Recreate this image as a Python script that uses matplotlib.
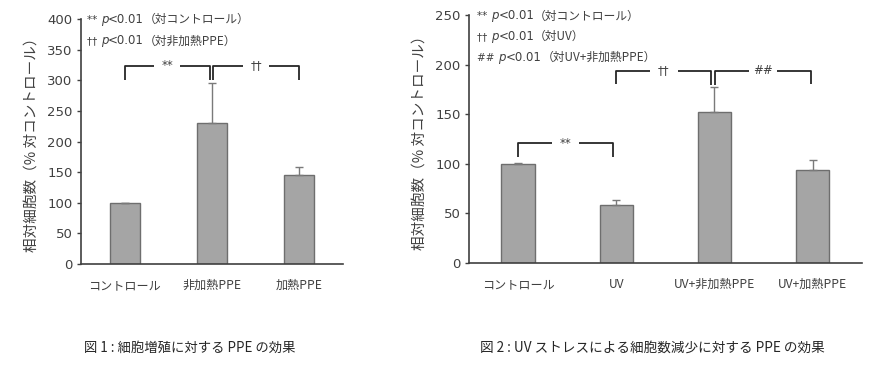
import matplotlib
matplotlib.use("Agg")
import matplotlib.pyplot as plt
import numpy as np

plt.rcParams['font.family'] = ['Noto Sans CJK JP', 'DejaVu Sans']

# ---- data ----
cats1 = ["コントロール", "非加熱PPE", "加熱PPE"]
vals1 = [100, 231, 145]
errs1 = [0.5, 65, 14]

cats2 = ["コントロール", "UV", "UV+非加熱PPE", "UV+加熱PPE"]
vals2 = [100, 58, 152, 94]
errs2 = [0.5, 5, 25, 10]

ylabel = "相対細胞数（% 対コントロール）"
notes1 = [("**", "（対コントロール）"), ("††", "（対非加熱PPE）")]
notes2 = [("**", "（対コントロール）"), ("††", "（対UV）"),
          ("##", "（対UV+非加熱PPE）")]
pval = "<0.01"
# brackets: (x_left, x_right, y_top, y_leg_left, y_leg_right, label)
brackets1 = [(0, 0.977, 324, 301, 300, "**"), (1.015, 2, 324, 300, 301, "††")]
brackets2 = [(0, 0.97, 120.5, 107, 107, "**"), (1.0, 1.97, 193.8, 180, 179, "††"),
             (2.01, 2.98, 193.8, 179, 180, "##")]
captions = ["図 1 : 細胞増殖に対する PPE の効果",
            "図 2 : UV ストレスによる細胞数減少に対する PPE の効果"]

TXT = "#404040"
BAR = "#a5a5a5"
EDGE = "#6e6e6e"

fig = plt.figure(figsize=(8.78, 3.92), dpi=100)
ax1 = fig.add_axes([81/878, 1-264/392, (343-81)/878, (264-19.3)/392])
ax2 = fig.add_axes([469/878, 1-262.7/392, (861.7-469)/878, (262.7-15)/392])
renderer = fig.canvas.get_renderer()


def chain_text(ax, x0, y, pieces):
    """Place text pieces side by side on a common baseline."""
    x = x0
    for s, kw in pieces:
        t = ax.text(x, y, s, ha='left', va='baseline', color=TXT, **kw)
        bb = t.get_window_extent(renderer=renderer)
        x = ax.transData.inverted().transform((bb.x1, bb.y0))[0]


def draw(ax, cats, vals, errs, ymax, ystep, notes, note_ys, note_x, brackets, gap):
    x = np.arange(len(cats))
    ax.bar(x, vals, width=0.34, color=BAR, edgecolor=EDGE, linewidth=1.0, zorder=2)
    ax.errorbar(x, vals, yerr=[np.zeros(len(errs)), errs], fmt='none',
                ecolor="#7a7a7a", elinewidth=1.0, capsize=3, capthick=1.0, zorder=3)
    ax.set_xlim(-0.5, len(cats) - 0.5)
    ax.set_ylim(0, ymax)
    ax.set_yticks(np.arange(0, ymax + 1, ystep))
    ax.set_xticks(x)
    ax.set_xticklabels(cats, fontsize=8.7, color=TXT)
    ax.tick_params(axis='x', length=0, pad=11)
    ax.tick_params(axis='y', length=3, width=1.0, color="#404040", labelsize=9.5,
                   labelcolor=TXT, pad=3)
    for lbl in ax.get_yticklabels():
        lbl.set_family('DejaVu Sans')
    for s in ['top', 'right']:
        ax.spines[s].set_visible(False)
    for s in ['left', 'bottom']:
        ax.spines[s].set_color("#404040")
        ax.spines[s].set_linewidth(1.2)
    ax.set_ylabel(ylabel, fontsize=10.5, color=TXT, labelpad=6)

    # brackets
    for (xl, xr, yt, yl, yr, lab) in brackets:
        xc = (xl + xr) / 2
        kw = dict(color="#262626", lw=1.3, solid_capstyle='butt', zorder=4)
        ax.plot([xl, xl, xc - gap], [yl, yt, yt], **kw)
        ax.plot([xc + gap, xr, xr], [yt, yt, yr], **kw)
        ax.text(xc, yt, lab, ha='center', va='center', fontsize=8.5, color=TXT,
                family=['DejaVu Sans'])

    # significance notes
    for (sym, rest), yv in zip(notes, note_ys):
        chain_text(ax, note_x, yv, [
            (sym + " ", dict(fontsize=7.5, family=['DejaVu Sans'])),
            ("p", dict(fontsize=8.5, style='italic', family=['DejaVu Sans'])),
            (pval, dict(fontsize=8.5, family=['DejaVu Sans'])),
            (rest, dict(fontsize=8.5)),
        ])


draw(ax1, cats1, vals1, errs1, 400, 50, notes1, [394, 359], -0.43, brackets1, 0.15)
draw(ax2, cats2, vals2, errs2, 250, 50, notes2, [245.5, 224.5, 203.5], -0.415, brackets2, 0.14)

fig.text(190/878, 1-348/392, captions[0], ha='center', va='center',
         fontsize=9.6, color="#262626")
fig.text(652.5/878, 1-348/392, captions[1], ha='center', va='center',
         fontsize=9.8, color="#262626")

fig.savefig("out.png", dpi=100)
